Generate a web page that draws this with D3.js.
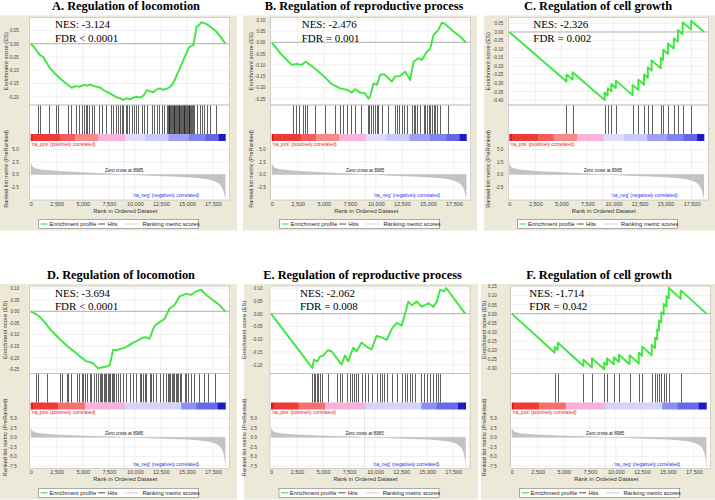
<!DOCTYPE html>
<html><head><meta charset="utf-8">
<script src="https://cdn.jsdelivr.net/npm/d3@7"></script>
<style>body{margin:0;background:#fff}svg{display:block}</style>
</head><body><svg id="c" width="715" height="500"></svg>
<script>
// ---------------- DATA ----------------
const titles = ["A. Regulation of locomotion","B. Regulation of reproductive process","C. Regulation of cell growth",
                "D. Regulation of locomotion","E. Regulation of reproductive process","F. Regulation of cell growth"];
const nesLabels = ["NES: -3.124","NES: -2.476","NES: -2.326","NES: -3.694","NES: -2.062","NES: -1.714"];
const fdrLabels = ["FDR < 0.0001","FDR = 0.001","FDR = 0.002","FDR < 0.0001","FDR = 0.008","FDR = 0.042"];

const xTicks = [0,2500,5000,7500,10000,12500,15000,17500];
const esTicksA = [0.05,0,-0.05,-0.10,-0.15,-0.20];
const esTicksB = [0.10,0.05,0,-0.05,-0.10,-0.15,-0.20,-0.25];
const esTicksC = [0.05,0,-0.05,-0.10,-0.15,-0.20,-0.25,-0.30,-0.35,-0.40];
const esTicksD = [0.10,0.05,0,-0.05,-0.10,-0.15,-0.20,-0.25];
const esTicksE = [0.10,0.05,0,-0.05,-0.10,-0.15,-0.20];
const esTicksF = [0.15,0.10,0.05,0,-0.05,-0.10,-0.15,-0.20,-0.25,-0.30];
const rankTicksTop = [5,2.5,0,-2.5];
const rankTicksBottom = [5,2.5,0,-2.5,-5,-7.5];
const zeroCross = 8985;
const legendLabels = ["Enrichment profile","Hits","Ranking metric scores"];

// running enrichment score [rank, ES]
const esA = [[0,0],[300,-0.012],[894,-0.043],[1200,-0.05],[1855,-0.093],[2400,-0.115],[2817,-0.131],[3400,-0.150],[3940,-0.166],[4300,-0.160],[4740,-0.162],[5100,-0.155],[5400,-0.158],[5700,-0.154],[6100,-0.160],[6660,-0.165],[7000,-0.175],[7620,-0.187],[8260,-0.202],[8600,-0.206],[8900,-0.212],[9200,-0.205],[9540,-0.210],[9900,-0.202],[10180,-0.200],[10500,-0.203],[10820,-0.196],[11000,-0.185],[11140,-0.175],[11500,-0.180],[11780,-0.183],[12100,-0.172],[12420,-0.168],[12700,-0.174],[13060,-0.169],[13300,-0.165],[13540,-0.156],[13800,-0.140],[14020,-0.118],[14300,-0.095],[14660,-0.062],[14900,-0.040],[15140,-0.017],[15400,-0.008],[15620,-0.005],[15780,0.030],[15940,0.064],[16200,0.072],[16420,0.082],[16600,0.078],[16900,0.074],[17300,0.062],[17860,0.045],[18300,0.022],[18700,0]];
const esB = [[0,0],[958,-0.056],[1920,-0.100],[2400,-0.096],[2881,-0.100],[3266,-0.086],[3683,-0.100],[4323,-0.123],[4964,-0.149],[5765,-0.185],[6567,-0.204],[7208,-0.210],[7689,-0.223],[8009,-0.208],[8490,-0.223],[8971,-0.226],[9291,-0.250],[9451,-0.240],[9772,-0.182],[10093,-0.189],[10413,-0.145],[10734,-0.141],[11054,-0.152],[11535,-0.174],[11855,-0.152],[12336,-0.149],[12817,-0.130],[13298,-0.167],[13618,-0.086],[14099,-0.071],[14420,-0.078],[14900,-0.042],[15221,-0.028],[15541,0.032],[15990,0.054],[16342,0.087],[16662,0.081],[17304,0.054],[18105,0.025],[18650,0]];
const esC = [[0,0],[5492,-0.291],[5492,-0.249],[6080,-0.280],[6080,-0.237],[9153,-0.400],[9153,-0.357],[9447,-0.373],[9447,-0.330],[9807,-0.349],[9807,-0.306],[10232,-0.329],[10232,-0.286],[11834,-0.371],[11834,-0.311],[12390,-0.341],[12390,-0.281],[12946,-0.310],[12946,-0.250],[13305,-0.269],[13305,-0.209],[13665,-0.228],[13665,-0.167],[14547,-0.214],[14547,-0.153],[14776,-0.165],[14776,-0.104],[15234,-0.128],[15234,-0.067],[15790,-0.097],[15790,-0.036],[16182,-0.057],[16182,0.012],[16640,-0.012],[16640,0.058],[17457,0.015],[17457,0.066],[18700,0]];
const esD = [[0,0],[510,-0.012],[893,-0.025],[1400,-0.050],[1850,-0.077],[2400,-0.102],[2807,-0.121],[3400,-0.145],[3924,-0.165],[4300,-0.178],[4721,-0.194],[5100,-0.208],[5359,-0.216],[5700,-0.219],[5997,-0.224],[6250,-0.236],[6476,-0.246],[6800,-0.242],[7114,-0.240],[7400,-0.236],[7592,-0.232],[7750,-0.200],[7911,-0.165],[8230,-0.168],[8549,-0.163],[8800,-0.160],[9028,-0.157],[9400,-0.148],[9825,-0.135],[10300,-0.125],[10782,-0.113],[11100,-0.112],[11420,-0.118],[11650,-0.090],[11899,-0.062],[12377,-0.047],[12856,-0.032],[13100,-0.010],[13334,0.012],[13813,0.027],[14050,0.045],[14291,0.064],[14600,0.070],[14929,0.075],[15408,0.071],[15886,0.086],[16365,0.093],[16843,0.071],[17481,0.049],[18119,0.027],[18693,0]];
const esE = [[0,0],[3980,-0.213],[4109,-0.180],[4430,-0.187],[4687,-0.169],[5008,-0.164],[5489,-0.143],[5810,-0.147],[6292,-0.173],[6773,-0.200],[7094,-0.164],[7415,-0.187],[7897,-0.133],[8218,-0.147],[8699,-0.113],[9180,-0.129],[9662,-0.140],[10144,-0.087],[10625,-0.093],[11107,-0.103],[11588,-0.060],[12070,-0.036],[12551,-0.047],[12872,0.000],[13193,0.047],[13514,0.033],[13996,0.047],[14477,0.027],[14798,0.033],[15119,0.040],[15601,0.027],[15922,0.047],[16243,0.093],[16628,0.087],[16820,0.100],[18650,0]];
const esF = [[0,0],[4133,-0.215],[4133,-0.183],[4428,-0.198],[4428,-0.160],[6888,-0.288],[6888,-0.253],[7708,-0.296],[7708,-0.245],[8889,-0.306],[8889,-0.268],[9151,-0.282],[9151,-0.245],[9807,-0.279],[9807,-0.240],[10299,-0.266],[10299,-0.225],[11316,-0.278],[11316,-0.228],[12202,-0.274],[12202,-0.214],[12530,-0.231],[12530,-0.181],[13448,-0.229],[13448,-0.172],[13776,-0.189],[13776,-0.132],[13973,-0.142],[13973,-0.085],[14137,-0.094],[14137,-0.037],[14366,-0.049],[14366,0.008],[14596,-0.004],[14596,0.053],[14858,0.039],[14858,0.096],[15088,0.084],[15088,0.141],[16236,0.081],[16236,0.128],[18700,0]];

// hit positions (rank)
const hitsA = [670,894,1760,2400,2657,3618,3843,4355,4612,4964,5125,5285,5445,5637,5894,6086,6535,6855,7240,7689,7945,8201,8362,8586,8746,8907,9131,9291,9483,9740,9932,10124,10349,10669,10894,11150,11631,11855,12112,12368,12592,12817,13073,13150,13233,13310,13394,13470,13554,13630,13714,13790,13874,13950,14035,14110,14195,14270,14355,14430,14515,14590,14675,14750,14836,14910,14996,15070,15156,15240,15317,15400,15477,15560,15637,15958,16214,16438,16662,16919,17240,17817];
const hitsB = [2080,2336,2625,3042,3202,3362,4163,5125,6086,6567,6888,7208,7625,8009,8554,9291,9387,9516,9708,9932,10093,10253,10573,11214,11855,12016,12272,12496,12657,12977,13458,13618,13778,13939,14259,14580,14740,14900,15060,15221,15381,15541,15701,15862,16182,16887];
const hitsC = [5492,6080,9153,9447,9807,10232,11834,12390,12946,13305,13665,14547,14776,15234,15790,16182,16640,17457];
const hitsD = [510,670,1531,2807,2967,3445,3605,3828,4402,4626,4881,5040,5200,5423,5678,5838,6093,6252,6476,6635,6763,6890,7018,7146,7273,7401,7528,7656,7784,7911,8039,8230,8390,8549,8868,9187,9506,9825,10144,10463,10623,10782,10942,11101,11420,11580,11739,12058,12377,12696,13015,13143,13270,13398,13526,13653,13781,13908,14036,14164,14291,14419,14770,14929,15089,15408,15727,16205,16684,17003,17736];
const hitsE = [3980,4109,4269,4398,4558,4719,4911,5457,6292,6581,6837,7319,7576,7768,7961,8121,8378,8699,9052,9341,9662,10144,10465,10689,10850,11171,11588,12070,12551,12872,13097,13354,13546,13835,14381,14702,15023,15280,15601,15858,16050,16243];
const hitsF = [4133,4428,6888,7708,8889,9151,9807,10299,11316,12202,12530,13448,13776,13973,14137,14366,14596,14858,15088,16236];

// ranked list metric [rank, value]
const rankedTop = [[0,2.6],[60,2.0],[200,1.5],[500,1.2],[1000,1.0],[2000,0.8],[3000,0.65],[4500,0.5],[6000,0.35],[7500,0.2],[8985,0],[10500,-0.15],[12000,-0.28],[13500,-0.4],[15000,-0.55],[16000,-0.7],[17000,-0.95],[17600,-1.3],[18000,-1.7],[18300,-2.3],[18500,-3.2],[18620,-4.3],[18700,-6.0]];
const rankedBottom = [[0,2.8],[60,2.1],[200,1.6],[500,1.25],[1000,1.0],[2000,0.8],[3000,0.65],[4500,0.5],[6000,0.35],[7500,0.2],[8985,0],[10500,-0.15],[12000,-0.3],[13500,-0.45],[15000,-0.6],[16000,-0.8],[17000,-1.1],[17600,-1.5],[18000,-2.0],[18300,-2.8],[18500,-4.0],[18620,-5.8],[18700,-8.2]];

// heat-map colour bar [start rank, end rank, colour]
const colorBarTop = [[0,250,"#dc1e1e"],[250,2800,"#f03a3a"],[2800,4260,"#f35c5c"],[4260,6500,"#f68a8a"],[6500,9067,"#f5b4dc"],[9067,10990,"#dcdcf8"],[10990,13230,"#cacaf5"],[13230,15150,"#a0a0f0"],[15150,16750,"#8282ec"],[16750,18030,"#6565e6"],[18030,18700,"#1c1cc4"]];
const colorBarBottom = [[0,255,"#dc1e1e"],[255,2650,"#f03a3a"],[2650,5200,"#f47070"],[5200,9030,"#f5b2da"],[9030,14450,"#d4d4f8"],[14450,15900,"#8e8eee"],[15900,17960,"#6a6ae8"],[17960,18700,"#1c1cc4"]];

// ---------------- LAYOUT ----------------
const FONT = "'Liberation Sans', Arial, Helvetica, sans-serif";
const SERIF = "'Liberation Serif', 'Times New Roman', serif";
const BEIGE = "#ece9d8";
const XMAX = 19110, PW = 199;

const rows = [
  {boxTop:15.5, boxBot:230.5, titleY:10.3, esTop:17.5, esBot:105, cbTop:134, cbBot:141, rkBot:200, nes1:28.3, nes2:41.6, xlab:205.5, xtitle:212.8, legTop:219.5},
  {boxTop:284, boxBot:499.5, titleY:279, esTop:286, esBot:373.5, cbTop:402.5, cbBot:409.5, rkBot:468.5, nes1:296.8, nes2:310, xlab:474.3, xtitle:481.4, legTop:488.3}
];
const panels = [
  {row:0,bx:0,bw:237,px:30.7,tx:126,nesX:55,tdE:12,tdR:12,ttl:22.4,es:esA,hits:hitsA,esTicks:esTicksA,esDom:[-0.231,0.099],rk:rankedTop,rkDom:[-5.1,6.7],rkTicks:rankTicksTop,cb:colorBarTop},
  {row:0,bx:243,bw:234,px:271.7,tx:364,nesX:301.7,tdE:6.5,tdR:6,ttl:18.4,es:esB,hits:hitsB,esTicks:esTicksB,esDom:[-0.278,0.110],rk:rankedTop,rkDom:[-5.1,6.7],rkTicks:rankTicksTop,cb:colorBarTop},
  {row:0,bx:484,bw:231,px:509.3,tx:598,nesX:533.3,tdE:6,tdR:6,ttl:19.3,es:esC,hits:hitsC,esTicks:esTicksC,esDom:[-0.429,0.085],rk:rankedTop,rkDom:[-5.1,6.7],rkTicks:rankTicksTop,cb:colorBarTop},
  {row:1,bx:0,bw:237,px:30.7,tx:121,nesX:55,tdE:11.4,tdR:14,ttl:24,es:esD,hits:hitsD,esTicks:esTicksD,esDom:[-0.268,0.109],rk:rankedBottom,rkDom:[-8.2,7.3],rkTicks:rankTicksBottom,cb:colorBarBottom},
  {row:1,bx:244,bw:234,px:271,tx:362.5,nesX:300,tdE:8.5,tdR:14,ttl:25,es:esE,hits:hitsE,esTicks:esTicksE,esDom:[-0.234,0.108],rk:rankedBottom,rkDom:[-8.2,7.3],rkTicks:rankTicksBottom,cb:colorBarBottom},
  {row:1,bx:481,bw:234,px:511.7,tx:599,nesX:529.3,tdE:15,tdR:15,ttl:26,es:esF,hits:hitsF,esTicks:esTicksF,esDom:[-0.329,0.152],rk:rankedBottom,rkDom:[-8.2,7.3],rkTicks:rankTicksBottom,cb:colorBarBottom}
];

const svg = d3.select("#c");

panels.forEach((p, i) => {
  const r = rows[p.row];
  const g = svg.append("g");
  const x = d3.scaleLinear().domain([0, XMAX]).range([p.px, p.px + PW]);
  const yEs = d3.scaleLinear().domain(p.esDom).range([r.esBot, r.esTop]);
  const yRk = d3.scaleLinear().domain(p.rkDom).range([r.rkBot, r.cbBot]);

  g.append("rect").attr("x", p.bx).attr("y", r.boxTop).attr("width", p.bw).attr("height", r.boxBot - r.boxTop).attr("fill", BEIGE);
  g.append("text").attr("x", p.tx).attr("y", r.titleY).attr("text-anchor", "middle")
    .attr("font-family", SERIF).attr("font-weight", "bold").attr("font-size", 12.4).text(titles[i]);

  g.append("rect").attr("x", p.px - 1).attr("y", r.esTop).attr("width", PW + 1).attr("height", r.rkBot - r.esTop).attr("fill", "#fff");

  const grid = g.append("g").attr("stroke", "#e6e6e6").attr("stroke-width", 0.6);
  grid.selectAll(null).data(xTicks.slice(1)).join("line")
    .attr("x1", d => x(d)).attr("x2", d => x(d)).attr("y1", r.esTop).attr("y2", r.esBot);
  grid.selectAll(null).data(xTicks.slice(1)).join("line")
    .attr("x1", d => x(d)).attr("x2", d => x(d)).attr("y1", r.cbBot).attr("y2", r.rkBot);
  grid.selectAll(null).data(p.esTicks.filter(d => d !== 0)).join("line")
    .attr("x1", p.px).attr("x2", p.px + PW).attr("y1", d => yEs(d)).attr("y2", d => yEs(d));
  grid.selectAll(null).data(p.rkTicks.filter(d => d !== 0)).join("line")
    .attr("x1", p.px).attr("x2", p.px + PW).attr("y1", d => yRk(d)).attr("y2", d => yRk(d));

  g.append("line").attr("x1", p.px).attr("x2", p.px + PW).attr("y1", yEs(0)).attr("y2", yEs(0))
    .attr("stroke", "#999").attr("stroke-width", 0.8);

  g.append("g").selectAll("line").data(p.hits).join("line")
    .attr("x1", d => Math.round(x(d)) + 0.5).attr("x2", d => Math.round(x(d)) + 0.5)
    .attr("y1", r.esBot).attr("y2", r.cbTop)
    .attr("stroke", "#111").attr("stroke-opacity", 0.75).attr("stroke-width", 0.9);

  g.append("g").selectAll("rect").data(p.cb).join("rect")
    .attr("x", d => x(d[0])).attr("width", d => x(d[1]) - x(d[0]) + 0.3)
    .attr("y", r.cbTop).attr("height", r.cbBot - r.cbTop).attr("fill", d => d[2]);

  const area = d3.area().x(d => x(d[0])).y0(yRk(0)).y1(d => Math.max(r.cbBot, Math.min(r.rkBot, yRk(d[1]))));
  g.append("path").datum(p.rk).attr("d", area).attr("fill", "#c3c3c3");
  g.append("line").attr("x1", p.px).attr("x2", x(18700)).attr("y1", yRk(0)).attr("y2", yRk(0))
    .attr("stroke", "#c3c3c3").attr("stroke-width", 0.6);

  g.append("line").attr("x1", x(zeroCross)).attr("x2", x(zeroCross)).attr("y1", r.cbBot).attr("y2", r.rkBot)
    .attr("stroke", "#b0b0b0").attr("stroke-width", 0.6).attr("stroke-dasharray", "1,1");
  g.append("text").attr("x", x(zeroCross)).attr("y", yRk(0) - 2.6).attr("text-anchor", "middle")
    .attr("font-family", FONT).attr("font-size", 4.6).attr("fill", "#222").text("Zero cross at " + zeroCross);
  g.append("text").attr("x", p.px + 0.5).attr("y", r.cbBot + 4.6)
    .attr("font-family", FONT).attr("font-size", 4.8).attr("fill", "#ee2020").text("'na_pos' (positively correlated)");
  g.append("text").attr("x", x(9780)).attr("y", r.rkBot - 2.6)
    .attr("font-family", FONT).attr("font-size", 4.8).attr("fill", "#3333ee").text("'na_neg' (negatively correlated)");

  const line = d3.line().x(d => x(d[0])).y(d => yEs(d[1]));
  g.append("path").datum(p.es).attr("d", line).attr("fill", "none")
    .attr("stroke", "#3ce83c").attr("stroke-width", 1.9).attr("stroke-linejoin", "round");

  const fr = g.append("g").attr("fill", "none").attr("stroke", "#b8b8b8").attr("stroke-width", 0.6);
  fr.append("rect").attr("x", p.px - 1).attr("y", r.esTop).attr("width", PW + 1).attr("height", r.esBot - r.esTop);
  fr.append("rect").attr("x", p.px - 1).attr("y", r.esBot).attr("width", PW + 1).attr("height", r.rkBot - r.esBot);

  g.append("text").attr("x", p.nesX).attr("y", r.nes1).attr("font-family", SERIF).attr("font-size", 11).text(nesLabels[i]);
  g.append("text").attr("x", p.nesX).attr("y", r.nes2).attr("font-family", SERIF).attr("font-size", 11).text(fdrLabels[i]);

  const styleAxis = sel => {
    sel.select(".domain").remove();
    sel.selectAll(".tick line").remove();
    sel.attr("font-family", FONT).attr("fill", "#444");
    sel.selectAll(".tick text").attr("fill", "#444");
  };
  const ax = g.append("g").attr("transform", `translate(0,${r.rkBot})`)
    .call(d3.axisBottom(x).tickValues(xTicks).tickSize(0).tickPadding(0).tickFormat(d3.format(",")));
  styleAxis(ax);
  ax.attr("font-size", 5.5);
  ax.selectAll(".tick text").attr("dy", null).attr("y", r.xlab - r.rkBot);

  const ay = g.append("g").attr("transform", `translate(${p.px - p.tdE},0)`)
    .call(d3.axisLeft(yEs).tickValues(p.esTicks).tickSize(0).tickPadding(0).tickFormat(d => d.toFixed(2)));
  styleAxis(ay);
  ay.attr("font-size", 4.5);

  const ar = g.append("g").attr("transform", `translate(${p.px - p.tdR},0)`)
    .call(d3.axisLeft(yRk).tickValues(p.rkTicks).tickSize(0).tickPadding(0).tickFormat(d => d.toFixed(1)));
  styleAxis(ar);
  ar.attr("font-size", 4.6);

  g.append("text").attr("x", (p.px + p.px + PW) / 2 - 5).attr("y", r.xtitle).attr("text-anchor", "middle")
    .attr("font-family", FONT).attr("font-size", 5.8).attr("fill", "#333").text("Rank in Ordered Dataset");
  g.append("text").attr("transform", `translate(${p.px - p.ttl},${(r.esTop + r.esBot) / 2}) rotate(-90)`)
    .attr("text-anchor", "middle").attr("font-family", FONT).attr("font-size", 5.8).attr("fill", "#333")
    .text("Enrichment score (ES)");
  g.append("text").attr("transform", `translate(${p.px - p.ttl},${(r.cbTop + r.rkBot) / 2 + 2}) rotate(-90)`)
    .attr("text-anchor", "middle").attr("font-family", FONT).attr("font-size", 5.6).attr("fill", "#333")
    .text("Ranked list metric (PreRanked)");

  const L = p.px + 8, T = r.legTop;
  const lg = g.append("g");
  lg.append("rect").attr("x", L).attr("y", T).attr("width", 160).attr("height", 9)
    .attr("fill", "#fff").attr("stroke", "#777").attr("stroke-width", 0.6);
  lg.append("line").attr("x1", L + 2).attr("x2", L + 9).attr("y1", T + 4.5).attr("y2", T + 4.5).attr("stroke", "#55e055").attr("stroke-width", 1.2);
  lg.append("line").attr("x1", L + 59.5).attr("x2", L + 66.5).attr("y1", T + 4.5).attr("y2", T + 4.5).attr("stroke", "#222").attr("stroke-width", 0.8);
  lg.append("line").attr("x1", L + 86).attr("x2", L + 100).attr("y1", T + 4.5).attr("y2", T + 4.5).attr("stroke", "#c8c8c8").attr("stroke-width", 0.8);
  const lx = [L + 10.7, L + 68.7, L + 103.7];
  lg.selectAll("text").data(legendLabels).join("text")
    .attr("x", (d, k) => lx[k]).attr("y", T + 6.6)
    .attr("font-family", FONT).attr("font-size", 5.8).attr("fill", "#222").text(d => d);
});
</script></body></html>
